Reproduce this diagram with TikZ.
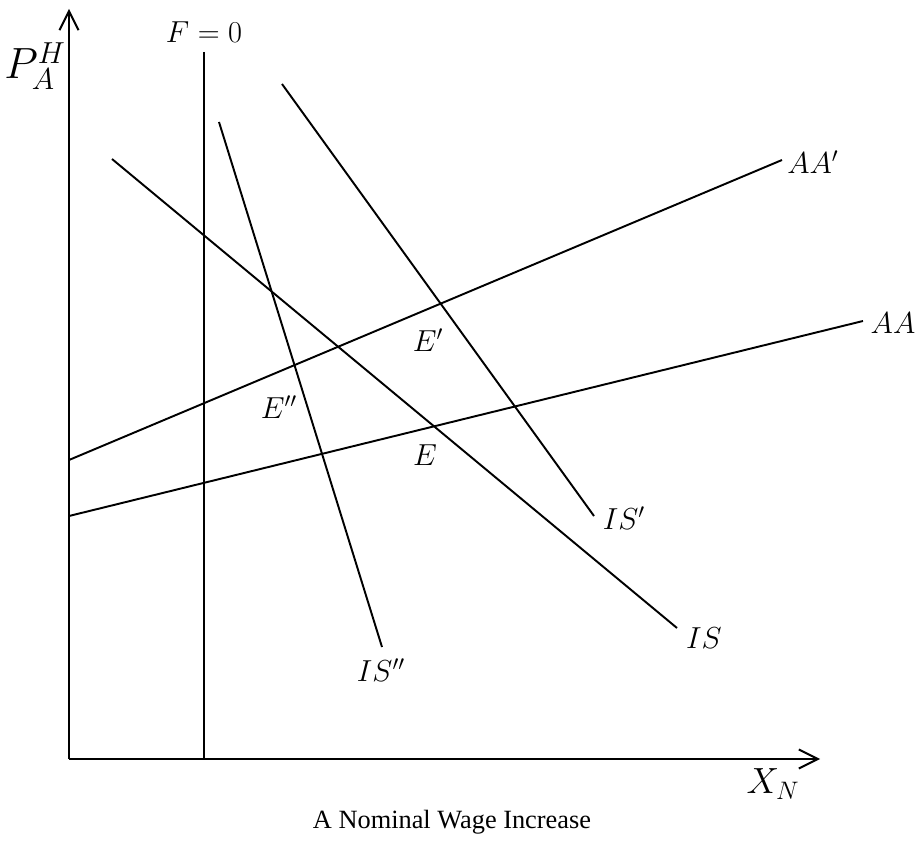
\documentclass[tikz,border=0pt]{standalone}
\usepackage{fontspec}
\setmainfont{Liberation Serif}
\usetikzlibrary{arrows.meta}

\begin{document}
\begin{tikzpicture}[x=0.02cm,y=-0.02cm]
    \tikzset{crv/.style={line width=1.1pt},
      axis/.style={line width=1.1pt,-{Straight Barb[length=3.8mm,width=3.8mm]}},
      lbl/.style={inner sep=0pt,font=\fontsize{18}{21}\selectfont}}
    \useasboundingbox (0,0) rectangle (920,841);
    % axes
    \coordinate (o) at (69,759);
    \coordinate (ytip) at (69,9);
    \coordinate (xtip) at (820,759);
    \draw[axis] (o) -- (ytip);
    \draw[axis] (o) -- (xtip);
    \node[inner sep=0pt,font=\fontsize{26}{30}\selectfont] (py) at (35,66) {$P_A^H$};
    \node[inner sep=0pt,font=\fontsize{22}{26}\selectfont] (xn) at (773,784) {$X_N$};
    % F = 0
    \node[lbl,font=\fontsize{19}{22}\selectfont] (f0) at (204,32) {$F=0$};
    \coordinate (fb) at (204,759);
    \draw[crv] (204,52) -- (fb);
    % AA curves
    \coordinate (aa0) at (69,516);
    \coordinate (aa1) at (863,321);
    \node[lbl] (aa) at (893,323) {$AA$};
    \draw[crv] (aa0) -- (aa1);
    \coordinate (ab0) at (69,460);
    \coordinate (ab1) at (782,160);
    \node[lbl] (ab) at (813,162) {$AA'$};
    \draw[crv] (ab0) -- (ab1);
    % IS curves
    \coordinate (is0) at (112,159);
    \coordinate (is1) at (677,628);
    \node[lbl] (is) at (704,638) {$IS$};
    \draw[crv] (is0) -- (is1);
    \coordinate (isa0) at (282,84);
    \coordinate (isa1) at (594,516);
    \node[lbl] (isa) at (624,518) {$IS'$};
    \draw[crv] (isa0) -- (isa1);
    \coordinate (isb0) at (219,122);
    \coordinate (isb1) at (382,647);
    \node[lbl] (isb) at (381,670) {$IS''$};
    \draw[crv] (isb0) -- (isb1);
    % equilibria
    \node[lbl] (e) at (425,455) {$E$};
    \node[lbl] (ea) at (428,340) {$E'$};
    \node[lbl] (eb) at (279,407) {$E''$};
    \node[inner sep=0pt,font=\fontsize{15}{18}\selectfont] (cap) at (452,822) {A Nominal Wage Increase};
  \end{tikzpicture}
\end{document}
